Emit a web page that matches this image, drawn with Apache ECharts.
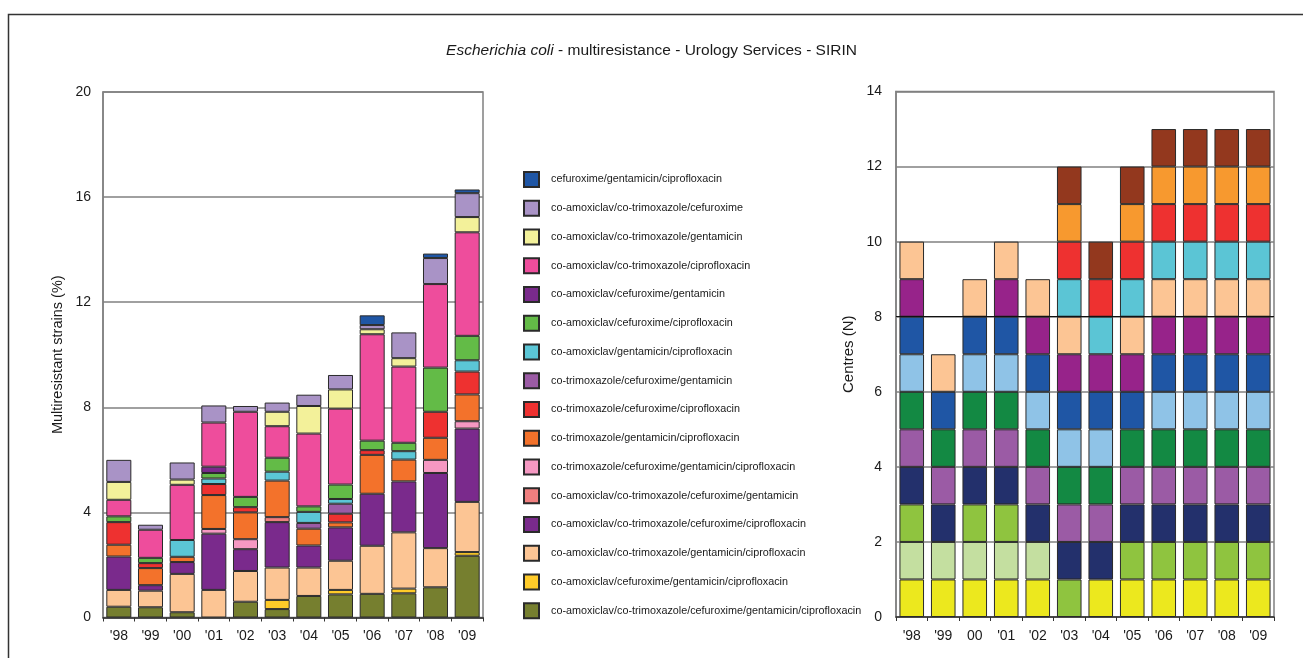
<!DOCTYPE html>
<html><head><meta charset="utf-8">
<script src="https://cdn.jsdelivr.net/npm/echarts@6/dist/echarts.min.js"></script>
<style>html,body{margin:0;padding:0;background:#fff}#c{width:1303px;height:658px}</style>
</head><body><div id="c"></div>
<script>
// ---------- data ----------
const yearsLeft  = ["'98","'99","'00","'01","'02","'03","'04","'05","'06","'07","'08","'09"];
const yearsRight = ["'98","'99","00","'01","'02","'03","'04","'05","'06","'07","'08","'09"];
const leftTicks = [0, 4, 8, 12, 16, 20];
const rightTicks = [0, 2, 4, 6, 8, 10, 12, 14];

// left chart: multiresistant strains (%), bottom of stack first
const names = [
  'co-amoxiclav/co-trimoxazole/cefuroxime/gentamicin/ciprofloxacin',
  'co-amoxiclav/cefuroxime/gentamicin/ciprofloxacin',
  'co-amoxiclav/co-trimoxazole/gentamicin/ciprofloxacin',
  'co-amoxiclav/co-trimoxazole/cefuroxime/ciprofloxacin',
  'co-amoxiclav/co-trimoxazole/cefuroxime/gentamicin',
  'co-trimoxazole/cefuroxime/gentamicin/ciprofloxacin',
  'co-trimoxazole/gentamicin/ciprofloxacin',
  'co-trimoxazole/cefuroxime/ciprofloxacin',
  'co-trimoxazole/cefuroxime/gentamicin',
  'co-amoxiclav/gentamicin/ciprofloxacin',
  'co-amoxiclav/cefuroxime/ciprofloxacin',
  'co-amoxiclav/cefuroxime/gentamicin',
  'co-amoxiclav/co-trimoxazole/ciprofloxacin',
  'co-amoxiclav/co-trimoxazole/gentamicin',
  'co-amoxiclav/co-trimoxazole/cefuroxime',
  'cefuroxime/gentamicin/ciprofloxacin'
];
const amcSxtCxmGenCip = [0.41,0.39,0.20,0,0.60,0.32,0.82,0.88,0.90,0.92,1.15,2.35];
const amcCxmGenCip    = [0,0,0,0,0,0.35,0,0.17,0,0.18,0,0.14];
const amcSxtGenCip    = [0.64,0.63,1.46,1.05,1.17,1.23,1.08,1.11,1.83,2.14,1.49,1.91];
const amcSxtCxmCip    = [1.27,0.21,0.45,2.14,0.83,1.73,0.84,1.27,1.98,1.94,2.86,2.79];
const amcSxtCxmGen    = [0,0,0,0,0,0.19,0,0,0,0,0,0];
const sxtCxmGenCip    = [0,0,0,0.18,0.38,0,0,0,0,0,0.50,0.28];
const sxtGenCip       = [0.45,0.65,0.20,1.29,1.02,1.39,0.64,0.19,1.48,0.83,0.84,1.02];
const sxtCxmCip       = [0.86,0.19,0,0.42,0.20,0,0,0.33,0.18,0,0.99,0.87];
const sxtCxmGen       = [0,0,0,0,0,0,0.22,0.38,0,0,0,0];
const amcGenCip       = [0,0,0.64,0.21,0,0.34,0.42,0.18,0,0.32,0,0.43];
const amcCxmCip       = [0.22,0.20,0,0.21,0.39,0.53,0.21,0.55,0.36,0.32,1.68,0.93];
const amcCxmGen       = [0,0,0,0.24,0,0,0,0,0,0,0,0];
const amcSxtCip       = [0.63,1.07,2.10,1.68,3.24,1.20,2.77,2.89,4.05,2.90,3.18,3.94];
const amcSxtGen       = [0.68,0,0.20,0,0,0.55,1.05,0.73,0.19,0.32,0,0.58];
const amcSxtCxm       = [0.84,0.19,0.65,0.65,0.22,0.35,0.43,0.55,0.16,0.98,0.99,0.91];
const cxmGenCip       = [0,0,0,0,0,0,0,0,0.37,0,0.17,0.14];
const leftValues = [amcSxtCxmGenCip, amcCxmGenCip, amcSxtGenCip, amcSxtCxmCip, amcSxtCxmGen,
  sxtCxmGenCip, sxtGenCip, sxtCxmCip, sxtCxmGen, amcGenCip, amcCxmCip, amcCxmGen,
  amcSxtCip, amcSxtGen, amcSxtCxm, cxmGenCip];
const leftColors = ['#767F2F','#FFCB29','#FCC594','#7A2A8C','#F07F7F','#F598C2','#F3722B','#EE3130',
  '#9B5BA5','#5BC6D6','#63BB47','#7A2A8C','#EE4D9C','#F3F19A','#A993C6','#1F56A5'];

// right chart: participating centres (1 = present), bottom of stack first
const centreA = [1,1,1,1,1,0,1,1,1,1,1,1];
const centreB = [1,1,1,1,1,0,0,0,0,0,0,0];
const centreC = [1,0,1,1,0,1,0,1,1,1,1,1];
const centreD = [1,1,1,1,1,1,1,1,1,1,1,1];
const centreE = [1,1,1,1,1,1,1,1,1,1,1,1];
const centreF = [1,1,1,1,1,1,1,1,1,1,1,1];
const centreG = [1,0,1,1,1,1,1,0,1,1,1,1];
const centreH = [1,1,1,1,1,1,1,1,1,1,1,1];
const centreI = [1,0,0,1,1,1,1,1,1,1,1,1];
const centreJ = [1,1,1,1,1,1,0,1,1,1,1,1];
const centreK = [0,0,0,0,0,1,1,1,1,1,1,1];
const centreL = [0,0,0,0,0,1,1,1,1,1,1,1];
const centreM = [0,0,0,0,0,1,0,1,1,1,1,1];
const centreN = [0,0,0,0,0,1,1,1,1,1,1,1];
const centres = [centreA,centreB,centreC,centreD,centreE,centreF,centreG,centreH,centreI,centreJ,centreK,centreL,centreM,centreN];
const centreColors = ['#ECE81E','#C4DFA0','#8FC43F','#23306C','#9B5BA5','#138943','#8FC3E7','#1F56A5',
  '#97238A','#FCC594','#5BC5D5','#EE3130','#F7992F','#93381E'];

// ---------- chart ----------
const FN = "'Liberation Sans',Arial,sans-serif";
const chart = echarts.init(document.getElementById('c'), null, {renderer:'canvas'});
const nz = v => v === 0 ? '-' : v;

const series = [];
leftValues.forEach((arr, i) => {
  series.push({
    name: names[i], type: 'bar', stack: 'left', xAxisIndex: 0, yAxisIndex: 0,
    barCategoryGap: '21%', data: arr.map(nz),
    itemStyle: {color: leftColors[i], borderColor: '#2a2a2a', borderWidth: 1},
    emphasis: {disabled: true}
  });
});
centres.forEach((arr, i) => {
  const s = {
    name: 'centre ' + String.fromCharCode(65 + i), type: 'bar', stack: 'right', xAxisIndex: 1, yAxisIndex: 1,
    barCategoryGap: '22%', data: arr.map(nz),
    itemStyle: {color: centreColors[i], borderColor: '#2a2a2a', borderWidth: 1},
    emphasis: {disabled: true}
  };
  if (i === 0) {
    s.markLine = {silent: true, symbol: 'none', label: {show: false},
      lineStyle: {color: '#111', width: 1, type: 'solid'}, data: [{yAxis: 8}]};
  }
  series.push(s);
});

const axisLbl = {color: '#1a1a1a', fontFamily: FN, fontSize: 14};
chart.setOption({
  animation: false,
  backgroundColor: '#fff',
  title: {
    text: '{i|Escherichia coli} - multiresistance - Urology Services - SIRIN',
    left: 'center', top: 38,
    textStyle: {fontFamily: FN, fontSize: 15.5, fontWeight: 'normal', color: '#1a1a1a',
      rich: {i: {fontFamily: FN, fontSize: 15.5, fontStyle: 'italic', color: '#1a1a1a'}}}
  },
  graphic: [{type: 'rect', shape: {x: 8.5, y: 14.5, width: 1400, height: 700},
    style: {fill: 'none', stroke: '#333', lineWidth: 1.5}, silent: true}],
  legend: {
    orient: 'vertical', left: 518, top: 166, height: 485,
    itemWidth: 15, itemHeight: 15, itemGap: 11.75,
    icon: 'rect', selectedMode: false,
    data: names.slice().reverse(),
    textStyle: {fontFamily: FN, fontSize: 10.8, lineHeight: 15, color: '#1a1a1a', padding: [0, 0, 0, 7]}
  },
  grid: [
    {left: 103, top: 92, width: 380, bottom: 40.5, show: true, borderColor: '#808080', borderWidth: 1.5, containLabel: false},
    {left: 896, top: 91.5, width: 378, bottom: 41, show: true, borderColor: '#808080', borderWidth: 1.5, containLabel: false}
  ],
  xAxis: [
    {type: 'category', gridIndex: 0, data: yearsLeft,
      axisLine: {lineStyle: {color: '#333', width: 1.5}},
      axisTick: {show: true, length: 4, lineStyle: {color: '#333'}},
      axisLabel: Object.assign({margin: 12}, axisLbl)},
    {type: 'category', gridIndex: 1, data: yearsRight,
      axisLine: {lineStyle: {color: '#333', width: 1.5}},
      axisTick: {show: true, length: 4, lineStyle: {color: '#333'}},
      axisLabel: Object.assign({margin: 12}, axisLbl)}
  ],
  yAxis: [
    {type: 'value', gridIndex: 0, min: leftTicks[0], max: leftTicks[leftTicks.length - 1], interval: 4,
      name: 'Multiresistant strains (%)', nameLocation: 'middle', nameGap: 38, nameRotate: 90,
      nameTextStyle: {fontFamily: FN, fontSize: 14.5, color: '#1a1a1a'},
      axisLine: {show: true, lineStyle: {color: '#808080', width: 1.5}}, axisTick: {show: false},
      axisLabel: Object.assign({margin: 12}, axisLbl),
      splitLine: {lineStyle: {color: '#808080', width: 1.5}}},
    {type: 'value', gridIndex: 1, min: rightTicks[0], max: rightTicks[rightTicks.length - 1], interval: 2,
      name: 'Centres (N)', nameLocation: 'middle', nameGap: 40, nameRotate: 90,
      nameTextStyle: {fontFamily: FN, fontSize: 15, color: '#1a1a1a'},
      axisLine: {show: true, lineStyle: {color: '#808080', width: 1.5}}, axisTick: {show: false},
      axisLabel: Object.assign({margin: 14}, axisLbl),
      splitLine: {lineStyle: {color: '#808080', width: 1.5}}}
  ],
  series: series
});
</script>
</body></html>
